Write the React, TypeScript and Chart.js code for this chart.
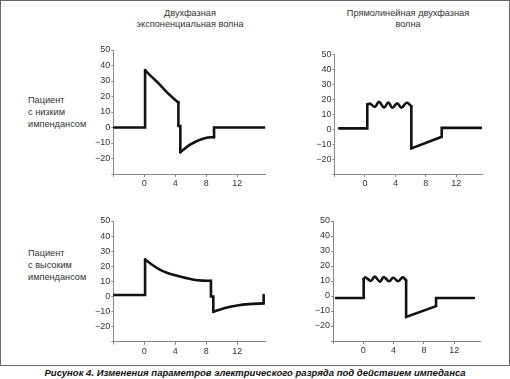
import React, { useEffect, useRef } from "react";
import { Chart, registerables } from "chart.js";

Chart.register(...registerables);

// ---------- data ----------
const xTicks = [-4, 0, 4, 8, 12];
const yTicks = [-30, -20, -10, 0, 10, 20, 30, 40, 50];

// top-left: biphasic exponential, low impedance
const lowExpRise = [[-4, 0], [0.1, 0], [0.1, 37]];
const lowExpDecay = [[0.1, 37], [1, 32.5], [2, 27.7], [3, 22.3], [4, 17.7], [4.4, 16.2]];
const lowExpReverse = [[4.4, 16.2], [4.4, 1], [4.65, 1], [4.65, -16]];
const lowExpRecover = [[4.65, -16], [5.9, -11.1], [7.2, -7.9], [8.2, -6.5], [9, -6.3]];
const lowExpEnd = [[9, -6.3], [9, 0], [15.6, 0]];

// top-right: rectilinear biphasic, low impedance
const lowRectStart = [[-3.4, 0.5], [0.3, 0.5], [0.3, 16.5]];
const lowRectWave = [[0.3, 16.5], [0.66, 17], [1.3, 14.9], [1.85, 18.2], [2.5, 14.4], [3.07, 17.8], [3.6, 14.3], [4.25, 17.2], [4.8, 14.3], [5.5, 17.6], [6.1, 15.3]];
const lowRectEnd = [[6.1, 15.3], [6.1, -12.9], [10.1, -5.1], [10.1, 0.8], [15.3, 0.8]];

// bottom-left: biphasic exponential, high impedance
const highExpRise = [[-4, 1], [0.1, 1], [0.1, 24.5]];
const highExpDecay = [[0.1, 24.5], [1, 21], [2, 17.8], [3, 15.6], [4.2, 13.8], [5.3, 12.3], [6.4, 11.1], [7.5, 10.5], [8.6, 10.3]];
const highExpReverse = [[8.6, 10.3], [8.6, 0], [8.9, 0], [8.9, -10.2]];
const highExpRecover = [[8.9, -10.2], [10.3, -7.8], [12, -6], [13.5, -5.1], [15.4, -4.6]];
const highExpEnd = [[15.4, -4.6], [15.4, 1]];

// bottom-right: rectilinear biphasic, high impedance
const highRectStart = [[-3.6, -1.3], [0.05, -1.3], [0.05, 11.3]];
const highRectWave = [[0.05, 11.3], [0.3, 12.4], [1.0, 10], [1.5, 12.9], [2.2, 9.6], [2.7, 12.6], [3.4, 9.8], [3.95, 12.2], [4.6, 9.8], [5.2, 12.4], [5.65, 10.5]];
const highRectEnd = [[5.65, 10.5], [5.65, -14], [9.6, -6.8], [9.6, -1.3], [14.6, -1.3]];

const titleExp = ["Двухфазная", "экспоненциальная волна"];
const titleRect = ["Прямолинейная двухфазная", "волна"];
const rowLow = ["Пациент", "с низким", "импендансом"];
const rowHigh = ["Пациент", "с высоким", "импендансом"];
const caption = "Рисунок 4. Изменения параметров электрического разряда под действием импеданса";

const FONT = "'Liberation Sans', Arial, sans-serif";

type Seg = { pts: number[][]; tension: number };

const AXW = 40;
const AXH = 20;

function WaveChart(props: { x0: number; top: number; w: number; h: number; xMax: number; segs: Seg[] }) {
  const ref = useRef<HTMLCanvasElement | null>(null);
  const { x0, top, w, h, xMax, segs } = props;
  const cLeft = Math.floor(x0) - AXW;
  const cTop = Math.floor(top) - 10;
  const cW = Math.ceil(x0 + w + 8) - cLeft;
  const cH = Math.ceil(top + h) + AXH + 2 - cTop;
  const padL = x0 - cLeft - AXW;
  const padT = top - cTop;
  const padR = cW - (x0 - cLeft) - w;
  const padB = cH - padT - h - AXH;

  useEffect(() => {
    if (!ref.current) return;
    const chart = new Chart(ref.current, {
      type: "line",
      data: {
        datasets: segs.map((s) => ({
          data: s.pts.map((p) => ({ x: p[0], y: p[1] })),
          borderColor: "#111",
          borderWidth: 2.6,
          tension: s.tension,
          pointRadius: 0,
          fill: false,
          borderCapStyle: "round",
          borderJoinStyle: s.tension > 0 ? "round" : "miter",
        })),
      },
      options: {
        animation: false,
        responsive: false,
        maintainAspectRatio: false,
        devicePixelRatio: 1,
        layout: { padding: { left: padL, top: padT, right: padR, bottom: padB } },
        plugins: { legend: { display: false }, tooltip: { enabled: false } },
        scales: {
          x: {
            type: "linear",
            min: -4,
            max: xMax,
            afterBuildTicks: (s: any) => {
              s.ticks = xTicks.map((v) => ({ value: v }));
            },
            afterFit: (s: any) => {
              s.height = AXH;
            },
            ticks: {
              autoSkip: false,
              maxRotation: 0,
              padding: 1,
              color: "#333",
              font: { family: FONT, size: 9 },
              callback: (v: any) => (v === -4 ? "" : String(v)),
            },
            grid: { drawOnChartArea: false, tickLength: 3, color: "#888" },
            border: { color: "#888", width: 1 },
          },
          y: {
            type: "linear",
            min: -30,
            max: 50,
            afterBuildTicks: (s: any) => {
              s.ticks = yTicks.map((v) => ({ value: v }));
            },
            afterFit: (s: any) => {
              s.width = AXW;
            },
            ticks: {
              autoSkip: false,
              padding: 1,
              color: "#333",
              font: { family: FONT, size: 9 },
              callback: (v: any) => (v === -30 ? "" : v < 0 ? "\u2212" + Math.abs(v) : String(v)),
            },
            grid: { drawOnChartArea: false, tickLength: 2, color: "#888" },
            border: { color: "#888", width: 1 },
          },
        },
      } as any,
    });
    return () => chart.destroy();
  }, []);

  return (
    <canvas
      ref={ref}
      width={cW}
      height={cH}
      style={{ position: "absolute", left: cLeft, top: cTop, width: cW, height: cH }}
    />
  );
}

function Lines(props: { lines: string[]; left: number; top: number; width: number; align: "left" | "center"; lh: number }) {
  return (
    <div
      style={{
        position: "absolute",
        left: props.left,
        top: props.top,
        width: props.width,
        textAlign: props.align,
        fontFamily: FONT,
        fontSize: 9.2,
        lineHeight: props.lh + "px",
        color: "#333",
        whiteSpace: "nowrap",
      }}
    >
      {props.lines.map((l, i) => (
        <div key={i}>{l}</div>
      ))}
    </div>
  );
}

export default function App() {
  return (
    <div style={{ position: "absolute", left: 0, top: 0, width: 510, height: 379, background: "#fff", overflow: "hidden" }}>
      <div
        style={{
          position: "absolute",
          left: 0,
          top: 0,
          width: 510,
          height: 366,
          border: "1px solid #666",
          boxSizing: "border-box",
        }}
      />
      <Lines lines={titleExp} left={90} top={8} width={200} align="center" lh={10.5} />
      <Lines lines={titleRect} left={308} top={8} width={200} align="center" lh={10.5} />
      <Lines lines={rowLow} left={28} top={95.3} width={90} align="left" lh={11.7} />
      <Lines lines={rowHigh} left={28} top={248.3} width={90} align="left" lh={11.7} />

      <WaveChart
        x0={113.3}
        top={50}
        w={151.9}
        h={124}
        xMax={15.6}
        segs={[
          { pts: lowExpRise, tension: 0 },
          { pts: lowExpDecay, tension: 0.35 },
          { pts: lowExpReverse, tension: 0 },
          { pts: lowExpRecover, tension: 0.35 },
          { pts: lowExpEnd, tension: 0 },
        ]}
      />
      <WaveChart
        x0={334.6}
        top={54.3}
        w={147.4}
        h={119.7}
        xMax={15.4}
        segs={[
          { pts: lowRectStart, tension: 0 },
          { pts: lowRectWave, tension: 0.4 },
          { pts: lowRectEnd, tension: 0 },
        ]}
      />
      <WaveChart
        x0={113.3}
        top={221}
        w={151.9}
        h={120.7}
        xMax={15.6}
        segs={[
          { pts: highExpRise, tension: 0 },
          { pts: highExpDecay, tension: 0.35 },
          { pts: highExpReverse, tension: 0 },
          { pts: highExpRecover, tension: 0.35 },
          { pts: highExpEnd, tension: 0 },
        ]}
      />
      <WaveChart
        x0={333}
        top={221}
        w={147}
        h={120}
        xMax={15.4}
        segs={[
          { pts: highRectStart, tension: 0 },
          { pts: highRectWave, tension: 0.4 },
          { pts: highRectEnd, tension: 0 },
        ]}
      />

      <div
        style={{
          position: "absolute",
          left: 0,
          top: 367,
          width: 510,
          textAlign: "center",
          fontFamily: FONT,
          fontSize: 9.5,
          fontWeight: "bold",
          fontStyle: "italic",
          lineHeight: "12px",
          color: "#111",
          whiteSpace: "nowrap",
        }}
      >
        {caption}
      </div>
    </div>
  );
}
